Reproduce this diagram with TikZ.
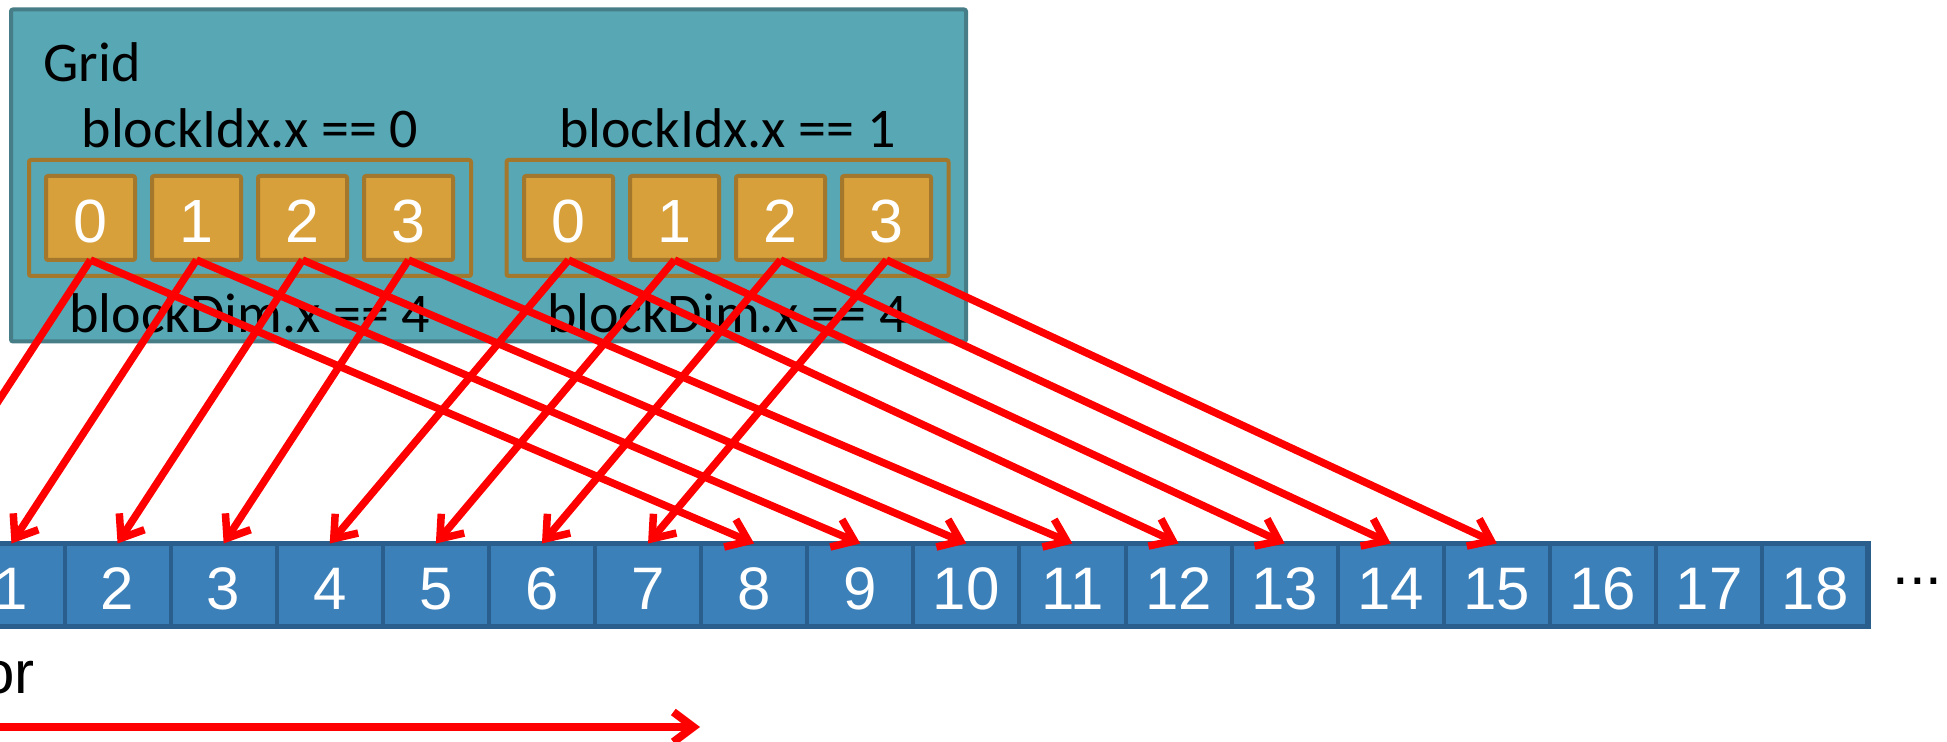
\documentclass[tikz,border=0pt]{standalone}
\usepackage{fontspec}
\setmainfont{Carlito}
\newfontfamily\arialf{Liberation Sans}
\usetikzlibrary{arrows.meta}
\definecolor{gridfill}{HTML}{58A7B4}
\definecolor{gridline}{HTML}{467D87}
\definecolor{blockline}{HTML}{A3772C}
\definecolor{threadfill}{HTML}{D8A03A}
\definecolor{arrfill}{HTML}{3C80B9}
\definecolor{arrline}{HTML}{2A5E8C}
\definecolor{redarrow}{HTML}{FF0000}
\begin{document}
\begin{tikzpicture}[x=0.5pt,y=-0.5pt,
  gridbox/.style={draw=gridline, fill=gridfill, line width=2pt, rounded corners=1pt,
    minimum width=477.5pt, minimum height=166pt, inner sep=0pt, outer sep=0pt},
  blockbox/.style={draw=blockline, line width=2pt, rounded corners=1pt,
    minimum width=221pt, minimum height=58pt, inner sep=0pt, outer sep=0pt},
  threadbox/.style={draw=blockline, fill=threadfill, line width=2pt, rounded corners=1pt,
    minimum width=44.5pt, minimum height=42pt, inner sep=0pt, outer sep=0pt},
  threadnum/.style={anchor=base, text=white, font=\arialf\fontsize{30.5pt}{30.5pt}\selectfont, inner sep=0pt},
  cellbox/.style={draw=arrline, fill=arrfill, line width=2pt,
    minimum width=53.05pt, minimum height=41.5pt, inner sep=0pt, outer sep=0pt},
  cellnum/.style={anchor=base, text=white, font=\arialf\fontsize{30pt}{30pt}\selectfont, inner sep=0pt},
  lbl/.style={anchor=base, font=\fontsize{28pt}{28pt}\selectfont, inner sep=0pt},
  maparrow/.style={draw=redarrow, line width=3.75pt, -{Straight Barb[length=10pt,width=15pt]}},
  longarrow/.style={draw=redarrow, line width=4pt, -{Straight Barb[length=10pt,width=15pt]}},
]
\useasboundingbox (0,0) rectangle (1947,742);
\clip (0,0) rectangle (1947,742);

% grid
\node[gridbox] (grid) at (488.5,175.5) {};
\node[lbl, anchor=base west] (gridlbl) at (43,82) {Grid};

% blocks
\foreach \b/\cx in {0/250, 1/727.5} {
  \node[blockbox] (blk\b) at (\cx,218) {};
  \node[lbl] (idx\b) at (\cx,148) {blockIdx.x == \b};
  \node[lbl] (dim\b) at (\cx,333) {blockDim.x == 4};
}
\foreach \b/\xs in {0/90.5, 1/568.5} {
  \foreach \t in {0,...,3} {
    \pgfmathsetmacro{\tx}{\xs+106*\t}
    \node[threadbox] (th\b\t) at (\tx,218) {};
    \node[threadnum] (thn\b\t) at (\tx,243) {\t};
  }
}

% array
\foreach \k in {0,...,18} {
  \pgfmathsetmacro{\cx}{64.5+(\k-1.5)*106.1}
  \node[cellbox] (c\k) at (\cx,585) {};
  \node[cellnum] (cn\k) at (\cx,609) {\k};
}
\draw[arrline, line width=2.75pt] (c0.north west) rectangle (c18.south east);
\node[anchor=base west, font=\arialf\fontsize{30pt}{30pt}\selectfont, inner sep=0pt] (dots) at (1892,584) {...};

% mapping arrows
\foreach \b in {0,1} {
  \foreach \t in {0,...,3} {
    \pgfmathtruncatemacro{\ia}{4*\b+\t}
    \pgfmathtruncatemacro{\ib}{4*\b+\t+8}
    \draw[maparrow] (th\b\t.south) -- (c\ia.north);
    \draw[maparrow] (th\b\t.south) -- (c\ib.north);
  }
}

% bottom label and arrow
\node[anchor=base east, font=\arialf\fontsize{30pt}{30pt}\selectfont, inner sep=0pt] (vec) at (35,693) {or};
\coordinate (ls) at (-20,727);
\coordinate (le) at (700,727);
\draw[longarrow] (ls) -- (le);
\end{tikzpicture}
\end{document}
